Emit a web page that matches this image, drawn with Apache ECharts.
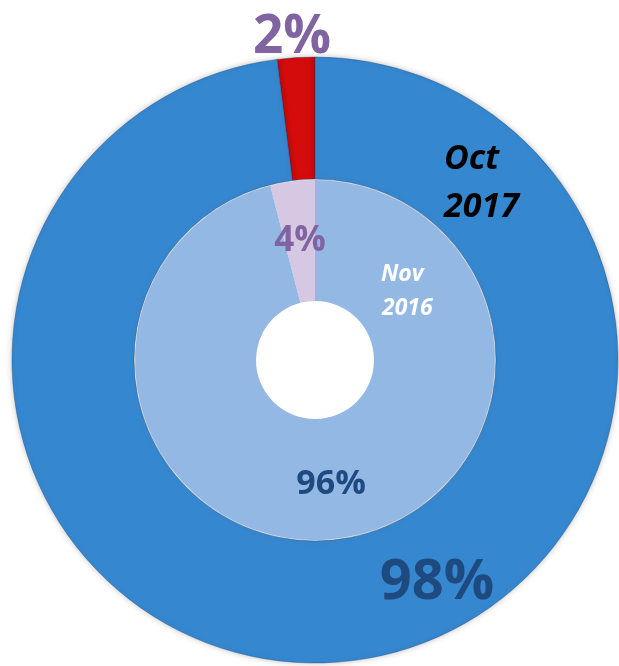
<!DOCTYPE html>
<html>
<head>
<meta charset="utf-8">
<script src="https://cdn.jsdelivr.net/npm/echarts@6/dist/echarts.min.js"></script>
<style>
  html, body { margin: 0; padding: 0; background: #fff; }
  #chart { width: 619px; height: 666px; }
</style>
</head>
<body>
<div id="chart"></div>
<script>
// two periods, two shares each
const outerName = ['Oct', '2017'];
const innerName = ['Nov', '2016'];
const categories = ['Other', 'Main'];
const oct2017 = [2, 98];
const nov2016 = [4, 96];

const chart = echarts.init(document.getElementById('chart'));
const font = '"Open Sans", sans-serif';

const pct = v => v + '%';

// text helper for the labels placed on top of the rings
const txt = (x, y, text, size, fill, extra) => ({
  type: 'text', x: x, y: y, z: 100,
  style: Object.assign({ text: text, font: 'bold ' + size + 'px ' + font, fill: fill, align: 'center', verticalAlign: 'middle' }, extra || {})
});

chart.setOption({
  animation: false,
  series: [
    {
      name: 'Oct 2017',
      type: 'pie',
      center: [315, 360],
      radius: [181, 303],
      startAngle: 90,
      clockwise: false,
      silent: true,
      z: 1,
      label: { show: false },
      labelLine: { show: false },
      itemStyle: { borderColor: 'rgba(20,60,110,0.35)', borderWidth: 1, shadowBlur: 6, shadowColor: 'rgba(0,0,0,0.25)' },
      data: categories.map((c, i) => ({
        name: c,
        value: oct2017[i],
        itemStyle: { color: i === 0 ? '#d40c0c' : '#3587cf' }
      }))
    },
    {
      name: 'Nov 2016',
      type: 'pie',
      center: [315, 360],
      radius: [59, 180],
      startAngle: 90,
      clockwise: false,
      silent: true,
      z: 1,
      label: { show: false },
      labelLine: { show: false },
      itemStyle: { borderWidth: 0 },
      data: categories.map((c, i) => ({
        name: c,
        value: nov2016[i],
        itemStyle: { color: i === 0 ? '#d6c8e2' : '#94b8e4' }
      }))
    }
  ],
  graphic: {
    elements: [
      txt(292, 38, pct(oct2017[0]), 53, '#8064a2'),
      txt(437, 583, pct(oct2017[1]), 56, '#1f4a80'),
      txt(300, 241, pct(nov2016[0]), 35, '#8064a2'),
      txt(331, 484, pct(nov2016[1]), 34, '#1f4a80'),
      txt(444, 159, outerName[0], 34, '#000', { font: 'italic bold 34px ' + font, align: 'left' }),
      txt(444, 207, outerName[1], 34, '#000', { font: 'italic bold 34px ' + font, align: 'left' }),
      txt(381, 274, innerName[0], 23, '#fff', { font: 'italic bold 23px ' + font, align: 'left' }),
      txt(382, 308, innerName[1], 23, '#fff', { font: 'italic bold 23px ' + font, align: 'left' })
    ]
  }
});
</script>
</body>
</html>
